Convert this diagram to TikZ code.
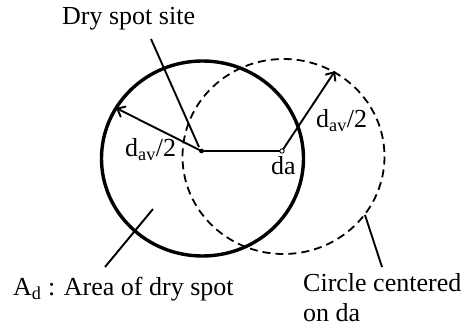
\documentclass[tikz,border=0pt]{standalone}
\usepackage{fontspec}
\setmainfont{Liberation Serif}
\usetikzlibrary{arrows.meta}
\begin{document}
\begin{tikzpicture}[x=1pt,y=-1pt,
  lbl/.style={font=\fontsize{26}{30}\selectfont, inner sep=0pt, anchor=base west},
  spot/.style={line width=3.4pt},
  moved/.style={line width=1.8pt, dash pattern=on 8pt off 5pt},
  thinline/.style={line width=1.9pt},
  radius arrow/.style={line width=1.9pt, -{Straight Barb[length=7pt,width=12pt,line width=1.9pt]}}]
\useasboundingbox (0,0) rectangle (467,329);
\fill[white] (0,0) rectangle (467,329);
% circles
\draw[spot] (202.5,158.5) ellipse [x radius=101, y radius=97.5];
\draw[moved] (283.5,156.5) ellipse [x radius=101, y radius=97.5];
% points
\coordinate (c) at (201.5,151);
\coordinate (da) at (282,151);
\coordinate (tipL) at (116,108);
\coordinate (tipR) at (335,71);
\draw[thinline] (c) -- (da);
\draw[radius arrow] (c) -- (tipL);
\draw[radius arrow] (da) -- (tipR);
\fill[black] (c) circle (2.4);
\draw[line width=0.9pt, fill=white] (da) circle (2.2);
% labels
\node[lbl] (site) at (62,25) {Dry spot site};
\node[lbl] (area) at (13,295) {A\textsubscript{d} : Area of dry spot};
\node[lbl] (circ) at (303,292) {Circle centered};
\node[lbl] (onda) at (303,322) {on da};
\node[lbl] (da lbl) at (271,175) {da};
\node[lbl] (rl) at (125,157) {d\textsubscript{av}/2};
\node[lbl] (rr) at (316,128) {d\textsubscript{av}/2};
% leaders
\coordinate (s1) at (151,39);
\coordinate (s2) at (199,147);
\coordinate (a1) at (105,267);
\coordinate (a2) at (153,209);
\coordinate (k1) at (365,215);
\coordinate (k2) at (382,267);
\draw[thinline] (s1) -- (s2);
\draw[thinline] (a1) -- (a2);
\draw[thinline] (k1) -- (k2);
\end{tikzpicture}
\end{document}
